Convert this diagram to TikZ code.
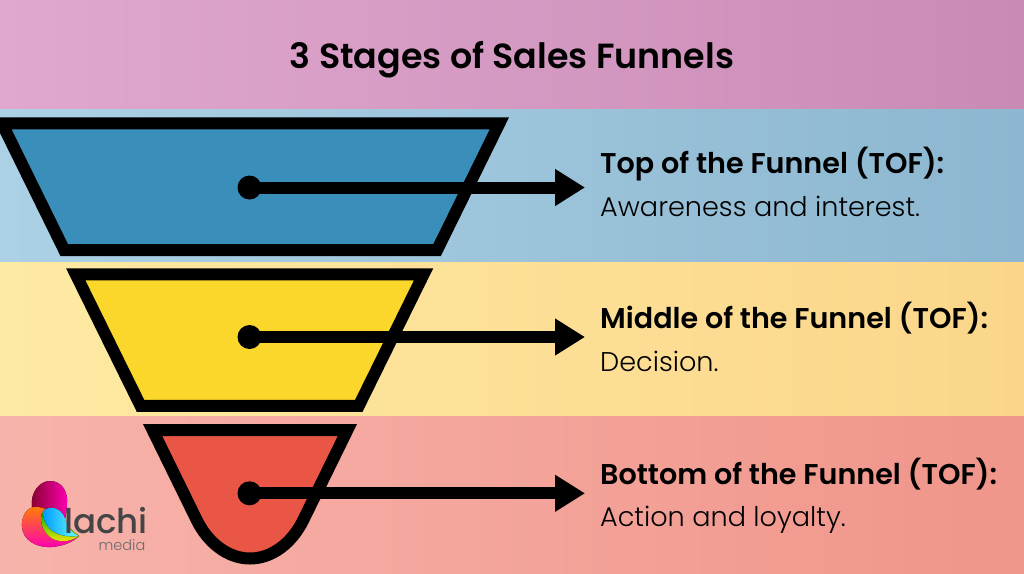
\documentclass[tikz,border=0pt]{standalone}
\usepackage{fontspec}
\setmainfont{Poppins}
\newfontfamily\lightfont{Poppins Light}
\newfontfamily\semifont{Poppins SemiBold}
\newfontfamily\mediumfont{Poppins Medium}
\usetikzlibrary{arrows.meta}
\definecolor{funnelblue}{HTML}{3A8FBA}
\definecolor{funnelyellow}{HTML}{FCD72B}
\definecolor{funnelred}{HTML}{E95645}
\definecolor{logogray}{HTML}{454545}
\definecolor{pinkleft}{HTML}{E0A8CE}
\definecolor{pinkright}{HTML}{C98BB6}
\definecolor{blueleft}{HTML}{ACD1E5}
\definecolor{blueright}{HTML}{8CB7D0}
\definecolor{yellowleft}{HTML}{FDEAA3}
\definecolor{yellowmid}{HTML}{FDE49C}
\definecolor{yellowright}{HTML}{FBD68A}
\definecolor{redleft}{HTML}{F7B3AB}
\definecolor{redright}{HTML}{F0958A}
\tikzset{
  funnelpart/.style={draw=black,line width=12pt,miter limit=10},
  stagedot/.style={circle,fill=black,inner sep=0pt,minimum size=24pt},
  stagearrow/.style={line width=12pt,-{Triangle[length=30pt,width=35pt]}},
  stagehead/.style={anchor=base west,inner sep=0pt,font=\semifont\fontsize{28.6}{33}\selectfont},
  stagenote/.style={anchor=base west,inner sep=0pt,font=\lightfont\fontsize{27.1}{33}\selectfont},
}
\begin{document}
\begin{tikzpicture}[x=1pt,y=-1pt]
  \useasboundingbox (0,0) rectangle (1024,573);
  \path[left color=pinkleft,right color=pinkright] (0,0) rectangle (1024,109);
  \path[left color=blueleft,right color=blueright] (0,109) rectangle (1024,262.5);
  \path[left color=yellowleft,middle color=yellowmid,right color=yellowright] (0,262.5) rectangle (1024,416);
  \path[left color=redleft,right color=redright] (0,416) rectangle (1024,573);
  \node[anchor=base,inner sep=0pt,font=\semifont\fontsize{34.9}{40}\selectfont] (title) at (512,68) {3 Stages of Sales Funnels};

  \draw[funnelpart,fill=funnelblue] (1.9,123.3) -- (499.4,123.3) -- (437.1,250) -- (64.2,250) -- cycle;
  \draw[funnelpart,fill=funnelyellow] (75.7,274.3) -- (423.6,274.3) -- (358.8,405.8) -- (140.5,405.8) -- cycle;
  \draw[funnelpart,fill=funnelred] (152.6,430) -- (347.4,430) -- (303.3,520) .. controls (292,543) and (272,558.5) .. (250,558.5) .. controls (228,558.5) and (208,543) .. (196.7,520) -- cycle;

  \node[stagedot] (topdot) at (249.5,187.5) {};
  \node[stagedot] (middot) at (249.5,337) {};
  \node[stagedot] (botdot) at (249.5,493.3) {};
  \coordinate (toptip) at (585,187.5);
  \coordinate (midtip) at (585,337);
  \coordinate (bottip) at (585,493.3);
  \draw[stagearrow] (topdot.center) -- (toptip);
  \draw[stagearrow] (middot.center) -- (midtip);
  \draw[stagearrow] (botdot.center) -- (bottip);

  \node[stagehead] (tophead) at (600,173.5) {Top of the Funnel (TOF):};
  \node[stagenote] (topnote) at (600,216) {Awareness and interest.};
  \node[stagehead] (midhead) at (600,328) {Middle of the Funnel (TOF):};
  \node[stagenote] (midnote) at (600,371) {Decision.};
  \node[stagehead] (bothead) at (600,484) {Bottom of the Funnel (TOF):};
  \node[stagenote] (botnote) at (600,526.5) {Action and loyalty.};

  \fill[left color=black!30!purple,right color=magenta!70!red] (32,507) .. controls (30,492) and (40,481) .. (50,481) .. controls (62,481) and (68,492) .. (67,503) .. controls (67,510) and (66,516) .. (64,522) -- (48,520) -- cycle;
  \fill[top color=orange,middle color=orange!60!red,bottom color=magenta!70!red] (34,507) .. controls (26,508) and (21,518) .. (22,527) .. controls (23,540) and (36,548) .. (52,547) .. controls (62,546) and (72,543) .. (79,536) -- (60,525) .. controls (55,514) and (46,506) .. (34,507) -- cycle;
  \fill[top color=green!70!black,bottom color=yellow!80!orange] (42,513) .. controls (39,523) and (44,534) .. (53,539) .. controls (62,543) and (72,541) .. (79,536) -- (60,520) -- cycle;
  \fill[left color=blue!40!cyan,right color=cyan!60!white] (43,511) .. controls (50,505) and (60,508) .. (64,516) .. controls (67,526) and (71,533) .. (79,536) .. controls (68,537) and (58,536) .. (50,529) .. controls (45,523) and (42,516) .. (43,511) -- cycle;
  \node[text=logogray,font=\mediumfont\fontsize{34}{34}\selectfont,anchor=base west,inner sep=0pt] (logoname) at (64,533) {lachi};
  \node[text=logogray!80,font=\lightfont\fontsize{14.5}{15}\selectfont,anchor=base east,inner sep=0pt] (logosub) at (145.5,550) {media};
\end{tikzpicture}
\end{document}
